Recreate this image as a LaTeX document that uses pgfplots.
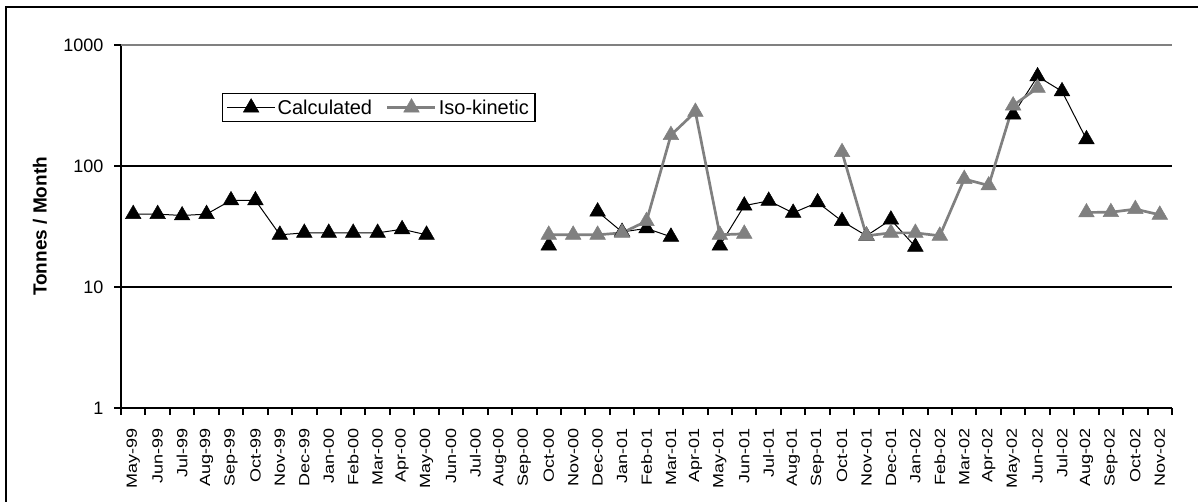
\documentclass[border=0pt]{standalone}
\usepackage{fontspec}
\setmainfont{Liberation Sans}
\usepackage{pgfplots}
\pgfplotsset{compat=1.18}
\usepackage{pgfplotstable}
\pgfplotstableread{
x calc iso
0 40 nan
1 40 nan
2 39 nan
3 40 nan
4 52 nan
5 52 nan
6 27 nan
7 28 nan
8 28 nan
9 28 nan
10 28 nan
11 30 nan
12 27 nan
13 nan nan
14 nan nan
15 nan nan
16 nan nan
17 22 27
18 nan 27
19 42 27
20 28.5 28
21 30.5 35
22 26 180
23 nan 280
24 22 27
25 47 27.5
26 51.5 nan
27 41 nan
28 50 nan
29 35 130
30 26.5 26.5
31 36 28
32 21.5 28
33 nan 26.5
34 nan 78
35 nan 69
36 266 316
37 550 442
38 414 nan
39 166 41.3
40 nan 41.5
41 nan 44
42 nan 39.5
}\datatable
\definecolor{isogray}{RGB}{128,128,128}
\begin{document}
\begin{tikzpicture}[x=1pt,y=1pt]
\useasboundingbox (0,0) rectangle (1198,502);
\draw[line width=2pt] (6,-20) -- (6,495) -- (1220,495);
\begin{axis}[
  at={(121pt,94pt)}, anchor=south west,
  scale only axis, width=1051pt, height=363pt,
  ymode=log, ymin=1, ymax=1000,
  xmin=-0.5, xmax=42.5,
  axis x line*=bottom, axis y line*=left,
  axis line style={-, line width=2pt, black},
  ytick={1,10,100,1000}, yticklabels={1,10,100,1000},
  yminorticks=false,
  ymajorgrids, major grid style={line width=2pt, black},
  xtick={0,...,42},
  xticklabels={May-99,Jun-99,Jul-99,Aug-99,Sep-99,Oct-99,Nov-99,Dec-99,Jan-00,Feb-00,Mar-00,Apr-00,May-00,Jun-00,Jul-00,Aug-00,Sep-00,Oct-00,Nov-00,Dec-00,Jan-01,Feb-01,Mar-01,Apr-01,May-01,Jun-01,Jul-01,Aug-01,Sep-01,Oct-01,Nov-01,Dec-01,Jan-02,Feb-02,Mar-02,Apr-02,May-02,Jun-02,Jul-02,Aug-02,Sep-02,Oct-02,Nov-02},
  major x tick style={draw=none},
  minor xtick={-0.5,0.5,...,42.5},
  minor x tick style={line width=2pt, black},
  minor tick length=7pt,
  major y tick style={line width=2pt, black},
  tick align=outside, major tick length=7pt,
  /pgf/number format/assume math mode=true,
  xticklabel style={yshift=-10pt, rotate=90, yscale=0.82, anchor=east, font=\fontsize{18}{20}\selectfont},
  yticklabel style={font=\fontsize{18}{20}\selectfont, xshift=-7pt},
  ylabel={Tonnes / Month},
  every axis y label/.style={at={(axis description cs:-0.0771,0.5)}, rotate=90, anchor=center, font=\bfseries\fontsize{19}{21}\selectfont},
  unbounded coords=jump,
  legend columns=2,
  legend style={at={(axis description cs:0.096,0.868)}, anchor=north west, draw=black, line width=1.5pt, font=\fontsize{20}{22}\selectfont, inner sep=4pt, /tikz/every even column/.append style={column sep=12pt}},
  legend image code/.code={\draw[mark repeat=2,mark phase=2,#1] plot coordinates {(0pt,0pt) (24pt,0pt) (48pt,0pt)};},
]
\addplot[black, line width=1pt, mark=triangle*, mark size=9pt, mark options={solid, fill=black, draw=black, line width=0.5pt}] table[x=x, y=calc] {\datatable};
\addlegendentry{Calculated}
\addplot[isogray, line width=2.7pt, mark=triangle*, mark size=9pt, mark options={solid, fill=isogray, draw=isogray, line width=0.5pt}] table[x=x, y=iso] {\datatable};
\addlegendentry{Iso-kinetic}
\draw[line width=2pt, isogray] (rel axis cs:0,1) -- (rel axis cs:1,1);
\end{axis}
\end{tikzpicture}
\end{document}
